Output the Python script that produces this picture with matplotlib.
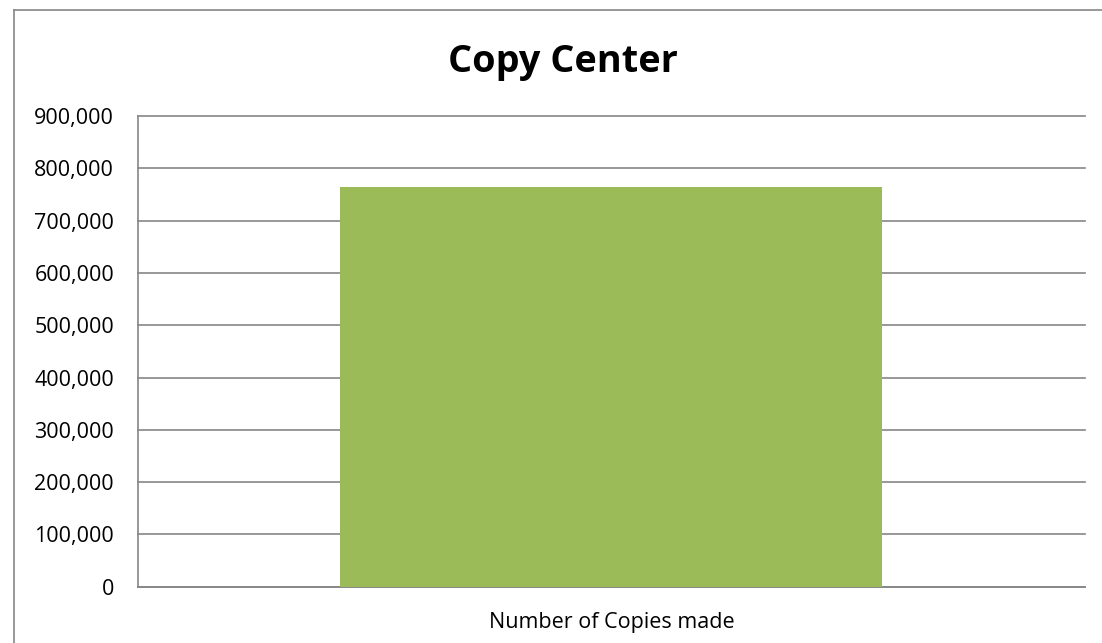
import matplotlib
matplotlib.use("Agg")
import matplotlib.pyplot as plt
from matplotlib.lines import Line2D
from matplotlib.ticker import FuncFormatter

categories = ["Number of Copies made"]
values = [765000]
title = "Copy Center"

W, H = 1102, 643
fig = plt.figure(figsize=(W / 100, H / 100), dpi=100)
plt.rcParams['font.family'] = ['Open Sans', 'DejaVu Sans']

ax = fig.add_axes([137.7 / W, 1 - 586.7 / H, (1085 - 137.7) / W, (586.7 - 116) / H])
ax.bar(range(len(categories)), values, width=0.572, color="#9BBB59", zorder=3)
ax.set_xlim(-0.5, len(categories) - 0.5)
ax.set_ylim(0, 900000)
ax.set_yticks(range(0, 900001, 100000))
ax.yaxis.set_major_formatter(FuncFormatter(lambda v, p: f"{int(v):,}"))
ax.set_xticks(range(len(categories)))
ax.set_xticklabels(categories)
ax.tick_params(axis="both", length=0, labelsize=15.5, colors="black")
ax.tick_params(axis="y", pad=17)
ax.tick_params(axis="x", pad=18)
ax.grid(axis="y", color="#868686", linewidth=1.2, zorder=0)
for gl in ax.get_ygridlines():
    gl.set_clip_on(False)
for s in ["top", "right"]:
    ax.spines[s].set_visible(False)
for s in ["left", "bottom"]:
    ax.spines[s].set_color("#868686")
    ax.spines[s].set_linewidth(1.2)

fig.text(563 / W, 1 - 72 / H, title, ha="center", va="baseline", fontsize=27.3, fontweight="bold")

# outer chart border
fig.add_artist(Line2D([13.5 / W, 13.5 / W], [0, 1 - 9.5 / H], transform=fig.transFigure, color="#868686", linewidth=1.2))
fig.add_artist(Line2D([13.5 / W, 1], [1 - 9.5 / H, 1 - 9.5 / H], transform=fig.transFigure, color="#868686", linewidth=1.2))

fig.savefig("out.png", dpi=100)
